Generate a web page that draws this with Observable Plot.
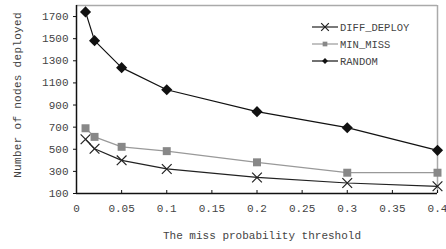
<!DOCTYPE html>
<html><head><meta charset="utf-8">
<script src="https://cdn.jsdelivr.net/npm/d3@7"></script>
<script src="https://cdn.jsdelivr.net/npm/@observablehq/plot@0.6"></script>
<style>
body{margin:0;background:#fff;}
#wrap{position:relative;width:446px;height:249px;}
</style>
</head><body>
<div id="wrap"></div>
<script>
const thresholds = [0.01, 0.02, 0.05, 0.1, 0.2, 0.3, 0.4];
const diffDeploy = [590, 505, 400, 322, 245, 195, 165];
const minMiss   = [690, 612, 522, 483, 382, 288, 288];
const random    = [1742, 1482, 1238, 1038, 840, 695, 490];
const seriesNames = ["DIFF_DEPLOY", "MIN_MISS", "RANDOM"];
const xTicks = [0, 0.05, 0.1, 0.15, 0.2, 0.25, 0.3, 0.35, 0.4];
const yTicks = [100, 300, 500, 700, 900, 1100, 1300, 1500, 1700];
const xDomain = [0, 0.4];
const yDomain = [100, 1800];

const styles = {
  DIFF_DEPLOY: {stroke: "#222", fill: "none", symbol: "times", r: 4.5, mstroke: "#222"},
  MIN_MISS: {stroke: "#999", fill: "#888", symbol: "square", r: 4.5, mstroke: "none"},
  RANDOM: {stroke: "#111", fill: "#111", symbol: "diamond2", r: 5, mstroke: "none"}
};
const values = {DIFF_DEPLOY: diffDeploy, MIN_MISS: minMiss, RANDOM: random};
const rows = seriesNames.flatMap(s => thresholds.map((t, i) => ({series: s, x: t, y: values[s][i]})));

const font = "'Liberation Mono', 'Courier New', monospace";
const marks = [
  Plot.ruleY([yDomain[1]], {stroke: "#aaa", strokeWidth: 1.5}),
  Plot.ruleX([xDomain[1]], {stroke: "#aaa", strokeWidth: 1.5}),
  Plot.ruleY([yDomain[0]], {stroke: "#111", strokeWidth: 1.5}),
  Plot.ruleX([xDomain[0]], {stroke: "#111", strokeWidth: 1.5}),
  Plot.axisY({ticks: yTicks, tickSize: 3, tickPadding: 5, label: null, tickFormat: d => String(d), fill: "#444", stroke: "#111"}),
  Plot.axisX({ticks: xTicks, tickSize: -3, tickPadding: 14, label: null, tickFormat: d => String(d), fill: "#444", stroke: "#111"})
];
for (const s of seriesNames) {
  const st = styles[s];
  const data = rows.filter(d => d.series === s);
  marks.push(Plot.line(data, {x: "x", y: "y", stroke: st.stroke, strokeWidth: 1.2}));
  marks.push(Plot.dot(data, {x: "x", y: "y", symbol: () => st.symbol, r: st.r, fill: st.fill, stroke: st.mstroke, strokeWidth: 1.2}));
}

const chart = Plot.plot({
  width: 446, height: 249,
  marginLeft: 76, marginRight: 9, marginTop: 5, marginBottom: 56,
  style: {fontFamily: font, fontSize: "11px", background: "#fff"},
  x: {domain: xDomain},
  y: {domain: yDomain},
  symbol: {type: "identity"},
  marks
});
const wrap = document.getElementById("wrap");
wrap.appendChild(chart);

// Axis titles
const svg = d3.select(chart);
svg.append("text").attr("x", 262).attr("y", 239).attr("text-anchor", "middle")
  .attr("font-family", font).attr("font-size", 11).attr("fill", "#444")
  .text("The miss probability threshold");
svg.append("text").attr("transform", "translate(21,95) rotate(-90)").attr("text-anchor", "middle")
  .attr("font-family", font).attr("font-size", 11).attr("fill", "#444").attr("letter-spacing", 0.3)
  .text("Number of nodes deployed");

// Legend
const lg = svg.append("g").attr("transform", "translate(312,27)");
seriesNames.forEach((s, i) => {
  const st = styles[s];
  const g = lg.append("g").attr("transform", `translate(0,${i * 17})`);
  g.append("line").attr("x1", 0).attr("x2", 26).attr("y1", 0).attr("y2", 0).attr("stroke", st.stroke).attr("stroke-width", 1.2);
  const sym = {times: d3.symbolTimes, square: d3.symbolSquare, diamond2: d3.symbolDiamond2}[st.symbol];
  g.append("path").attr("transform", "translate(13,0)")
    .attr("d", d3.symbol(sym, st.symbol === "times" ? 40 : 22)())
    .attr("fill", st.fill).attr("stroke", st.mstroke).attr("stroke-width", 1.2);
  g.append("text").attr("x", 28).attr("y", 0).attr("dy", "0.35em").attr("text-anchor", "start")
    .attr("font-family", font).attr("font-size", 10.5).attr("fill", "#444").text(s);
});
</script>
</body></html>
